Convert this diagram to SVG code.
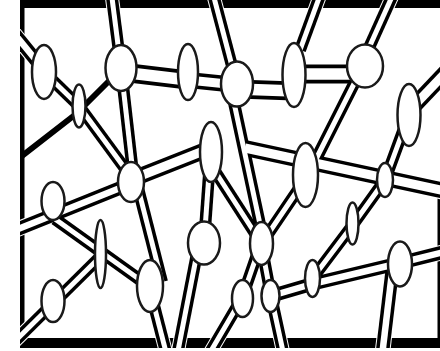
<svg xmlns="http://www.w3.org/2000/svg" width="440" height="351" viewBox="0 0 440 351">
<style>
.frame{fill:#000}
.rods use{fill:none;stroke-linejoin:round;stroke-linecap:butt}
.halo use{stroke:#fff}
.outer use{stroke:#000}
.inner use{stroke:#fff}
.halo .n{stroke-width:14}.outer .n{stroke-width:12}.inner .n{stroke-width:5}
.halo .m{stroke-width:15.5}.outer .m{stroke-width:13.5}.inner .m{stroke-width:6.5}
.halo .w{stroke-width:18}.outer .w{stroke-width:16}.inner .w{stroke-width:9}
.halo .x{stroke-width:21}.outer .x{stroke-width:19}.inner .x{stroke-width:11.5}
.solid{fill:none;stroke:#000;stroke-width:6;stroke-linejoin:round}
.node ellipse{fill:#fff;stroke:#1a1a1a;stroke-width:2.5}
</style>
<defs>
<clipPath id="inside"><rect x="20" y="-20" width="440" height="368"/></clipPath>
<path id="r1" d="M8 26 L44 70"/>
<path id="r2" d="M111 -10 L121 68"/>
<path id="r3" d="M44 72 L79 106"/>
<path id="r4" d="M79 106 L129 174"/>
<path id="r5" d="M121 68 L134 182"/>
<path id="r6" d="M121 72 L188 80"/>
<path id="r7" d="M188 80 L237 85"/>
<path id="r8" d="M237 89 L294 91"/>
<path id="r9" d="M294 74 L365 74"/>
<path id="r10" d="M232 66 L212 -10"/>
<path id="r11" d="M300 50 L322 -10"/>
<path id="r12" d="M368 50 L395 -10"/>
<path id="r13" d="M230 84 L264 243"/>
<path id="r14" d="M211 165 L258 238"/>
<path id="r15" d="M130 180 L211 148"/>
<path id="r16" d="M210 160 L204 243"/>
<path id="r17" d="M8 233 L130 184"/>
<path id="r18" d="M55 219 L150 287"/>
<path id="r19" d="M4 352 L100 257"/>
<path id="r20" d="M136 180 L162 282"/>
<path id="r21" d="M149 286 L167 356"/>
<path id="r22" d="M199 243 L177 356"/>
<path id="r23" d="M261 243 L242 298 L208 356"/>
<path id="r24" d="M261 243 L271 296 L284 356"/>
<path id="r25" d="M363 66 L308 175 L262 243"/>
<path id="r26" d="M245 148 L445 191"/>
<path id="r27" d="M410 110 L448 70"/>
<path id="r28" d="M410 112 L385 180 L352 226 L312 279"/>
<path id="r29" d="M271 296 L312 284 L400 263 L448 251"/>
<path id="r30" d="M393 264 L382 356"/>
</defs>
<rect width="440" height="351" fill="#fff"/>
<g id="frame">
<rect class="frame" x="20" y="0" width="420" height="8"/>
<rect class="frame" x="20" y="0" width="4.5" height="348"/>
<rect class="frame" x="20" y="338" width="420" height="10"/>
<rect class="frame" x="437.5" y="198" width="2.5" height="142"/>
</g>
<g id="connectors" class="rods" clip-path="url(#inside)">
<g class="halo">
<use href="#r1" class="m"/><use href="#r2" class="n"/><use href="#r3" class="n"/><use href="#r4" class="n"/><use href="#r5" class="n"/>
<use href="#r6" class="x"/><use href="#r7" class="w"/><use href="#r8" class="x"/><use href="#r9" class="x"/>
<use href="#r10" class="n"/><use href="#r11" class="n"/><use href="#r12" class="n"/><use href="#r13" class="n"/><use href="#r14" class="n"/>
<use href="#r15" class="w"/><use href="#r16" class="n"/><use href="#r17" class="m"/><use href="#r18" class="n"/><use href="#r19" class="n"/>
<use href="#r20" class="n"/><use href="#r21" class="n"/><use href="#r22" class="n"/><use href="#r23" class="n"/><use href="#r24" class="n"/>
<use href="#r25" class="n"/><use href="#r26" class="w"/><use href="#r27" class="w"/><use href="#r28" class="n"/><use href="#r29" class="m"/><use href="#r30" class="m"/>
</g>
<path class="solid" d="M18 159 L76 114 L110 80"/>
<g class="outer">
<use href="#r1" class="m"/><use href="#r2" class="n"/><use href="#r3" class="n"/><use href="#r4" class="n"/><use href="#r5" class="n"/>
<use href="#r6" class="x"/><use href="#r7" class="w"/><use href="#r8" class="x"/><use href="#r9" class="x"/>
<use href="#r10" class="n"/><use href="#r11" class="n"/><use href="#r12" class="n"/><use href="#r13" class="n"/><use href="#r14" class="n"/>
<use href="#r15" class="w"/><use href="#r16" class="n"/><use href="#r17" class="m"/><use href="#r18" class="n"/><use href="#r19" class="n"/>
<use href="#r20" class="n"/><use href="#r21" class="n"/><use href="#r22" class="n"/><use href="#r23" class="n"/><use href="#r24" class="n"/>
<use href="#r25" class="n"/><use href="#r26" class="w"/><use href="#r27" class="w"/><use href="#r28" class="n"/><use href="#r29" class="m"/><use href="#r30" class="m"/>
</g>
<g class="inner">
<use href="#r1" class="m"/><use href="#r2" class="n"/><use href="#r3" class="n"/><use href="#r4" class="n"/><use href="#r5" class="n"/>
<use href="#r6" class="x"/><use href="#r7" class="w"/><use href="#r8" class="x"/><use href="#r9" class="x"/>
<use href="#r10" class="n"/><use href="#r11" class="n"/><use href="#r12" class="n"/><use href="#r13" class="n"/><use href="#r14" class="n"/>
<use href="#r15" class="w"/><use href="#r16" class="n"/><use href="#r17" class="m"/><use href="#r18" class="n"/><use href="#r19" class="n"/>
<use href="#r20" class="n"/><use href="#r21" class="n"/><use href="#r22" class="n"/><use href="#r23" class="n"/><use href="#r24" class="n"/>
<use href="#r25" class="n"/><use href="#r26" class="w"/><use href="#r27" class="w"/><use href="#r28" class="n"/><use href="#r29" class="m"/><use href="#r30" class="m"/>
</g>
</g>
<g id="n1" class="node"><ellipse cx="44" cy="72" rx="12" ry="27"/></g>
<g id="n2" class="node"><ellipse cx="79" cy="106" rx="6.5" ry="21.5"/></g>
<g id="n3" class="node"><ellipse cx="121" cy="68" rx="15.5" ry="23"/></g>
<g id="n4" class="node"><ellipse cx="188" cy="72" rx="10" ry="28"/></g>
<g id="n5" class="node"><ellipse cx="211" cy="152" rx="11" ry="30"/></g>
<g id="n6" class="node"><ellipse cx="237" cy="84" rx="16" ry="22.5"/></g>
<g id="n7" class="node"><ellipse cx="294" cy="75" rx="11.5" ry="32"/></g>
<g id="n8" class="node"><ellipse cx="365" cy="66" rx="18" ry="21.5"/></g>
<g id="n9" class="node"><ellipse cx="409" cy="115" rx="11.5" ry="31"/></g>
<g id="n10" class="node"><ellipse cx="131" cy="182" rx="13" ry="20"/></g>
<g id="n11" class="node"><ellipse cx="53" cy="201" rx="11.5" ry="19"/></g>
<g id="n12" class="node"><ellipse cx="100.5" cy="254" rx="5.5" ry="34"/></g>
<g id="n13" class="node"><ellipse cx="150" cy="286" rx="13" ry="26"/></g>
<g id="n14" class="node"><ellipse cx="53" cy="301" rx="11.5" ry="21"/></g>
<g id="n15" class="node"><ellipse cx="204" cy="243" rx="16" ry="21.5"/></g>
<g id="n16" class="node"><ellipse cx="261.5" cy="243.5" rx="11.5" ry="21.5"/></g>
<g id="n17" class="node"><ellipse cx="242.5" cy="298.5" rx="10.5" ry="18.5"/></g>
<g id="n18" class="node"><ellipse cx="270.5" cy="296" rx="9" ry="16"/></g>
<g id="n19" class="node"><ellipse cx="312.5" cy="278.5" rx="7.5" ry="18.5"/></g>
<g id="n20" class="node"><ellipse cx="352.5" cy="223.5" rx="6" ry="21"/></g>
<g id="n21" class="node"><ellipse cx="400" cy="264" rx="12" ry="22.5"/></g>
<g id="n22" class="node"><ellipse cx="385" cy="180" rx="8" ry="17"/></g>
<g id="n23" class="node"><ellipse cx="305.5" cy="175" rx="12.5" ry="32"/></g>
</svg>
